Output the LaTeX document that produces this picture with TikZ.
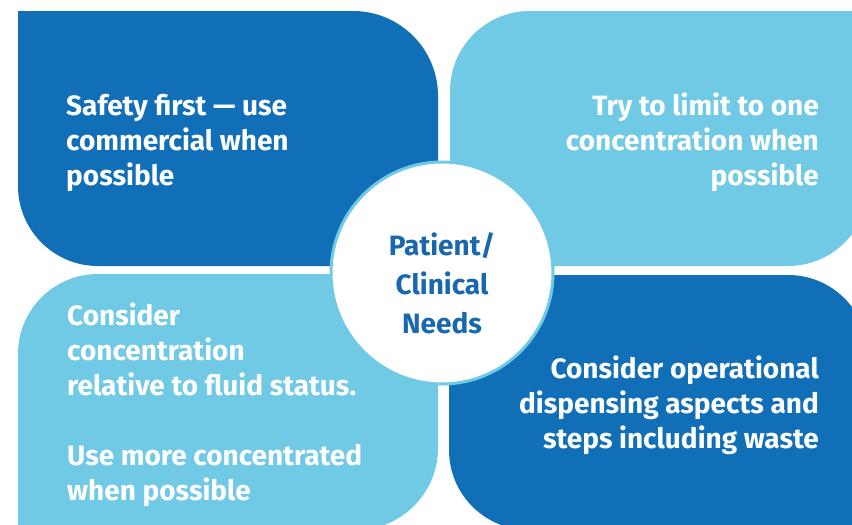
\documentclass[tikz,border=0pt]{standalone}
\usepackage{fontspec}
\setmainfont{Fira Sans}
\definecolor{darkblue}{HTML}{106FB7}
\definecolor{lightblue}{HTML}{71CAE5}
\definecolor{textblue}{HTML}{1868AF}
\tikzset{
  txt/.style={inner sep=0pt, text=white, font=\fontsize{28}{35}\selectfont\bfseries},
  ctxt/.style={inner sep=0pt, text=textblue, align=center, font=\fontsize{28}{39}\selectfont\bfseries},
}
\begin{document}
\begin{tikzpicture}[x=1pt,y=1pt]
\useasboundingbox (0,0) rectangle (852,-525);
\clip (0,0) rectangle (852,-525);
% top-left
\fill[darkblue] (18,-11) -- (353,-11) arc[start angle=90,end angle=0,radius=85] -- (438,-266) -- (98,-266) arc[start angle=270,end angle=180,radius=80] -- cycle;
% top-right
\fill[lightblue] (450,-266) -- (450,-91) arc[start angle=180,end angle=90,radius=80] -- (868,-11) -- (868,-186) arc[start angle=0,end angle=-90,radius=80] -- cycle;
% bottom-left
\fill[lightblue] (18,-530) -- (18,-354) arc[start angle=180,end angle=90,radius=80] -- (438,-274) -- (438,-448) arc[start angle=0,end angle=-90,radius=82] -- cycle;
% bottom-right
\fill[darkblue] (449,-275) -- (788,-275) arc[start angle=90,end angle=0,radius=80] -- (868,-530) -- (529,-530) arc[start angle=270,end angle=180,radius=80] -- cycle;
% centre
\node[circle, fill=white, draw=lightblue, line width=3pt, minimum size=222pt, inner sep=0pt] (c) at (442,-273) {};
\node[ctxt, anchor=base] (ct) at (442,-333) {Patient/\\Clinical\\Needs};
\node[txt, align=left, anchor=base west] (tl) at (66,-185) {Safety first — use\\commercial when\\possible};
\node[txt, align=right, anchor=base east] (tr) at (819,-185) {Try to limit to one\\concentration when\\possible};
\node[txt, align=left, anchor=base west] (bl) at (67,-500) {Consider\\concentration\\relative to fluid status.\\[35pt]Use more concentrated\\when possible};
\node[txt, align=right, anchor=base east] (br) at (819,-448) {Consider operational\\dispensing aspects and\\steps including waste};
\end{tikzpicture}
\end{document}
